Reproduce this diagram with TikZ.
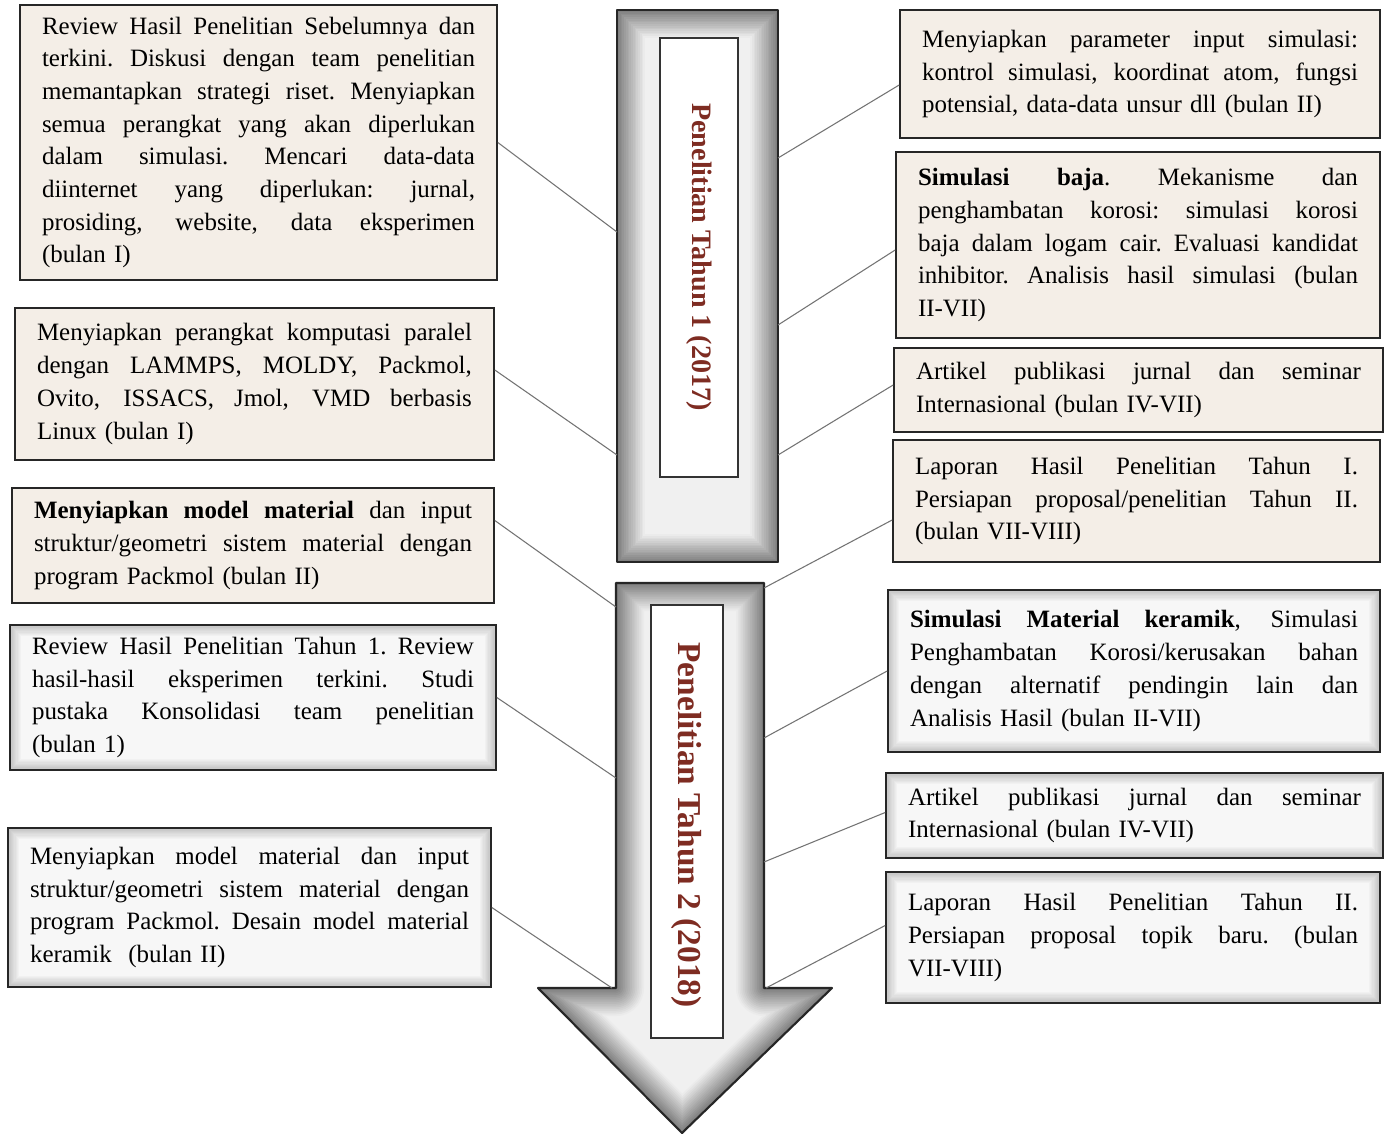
\documentclass[tikz,border=0pt]{standalone}
\usepackage{fontspec}
\setmainfont{Liberation Serif}
\usetikzlibrary{calc}
\definecolor{beige}{HTML}{F4EEE7}
\definecolor{labelred}{HTML}{7E2C22}
\newcommand\jl[1]{\hbox to \linewidth{\spaceskip=0.25em plus 1fil\xspaceskip=0.25em plus 1fil\relax #1}}
\newcommand\boxfont{\fontsize{14.2}{18.6}\selectfont\setlength\parindent{0pt}}
\begin{document}
\begin{tikzpicture}[x=0.02cm,y=-0.02cm,
 boxbase/.style={draw=black!85, line width=1pt, inner xsep=0.44cm, inner ysep=0pt, font=\boxfont, anchor=center},
 topbox/.style={boxbase, fill=beige},
 lowbox/.style={boxbase, fill=black!3, path picture={
   \foreach \i in {1,...,10}{
     \pgfmathsetmacro\w{(11-\i)*0.05}
     \pgfmathsetmacro\c{1+\i*2.2}
     \draw[line width=\w cm, black!\c] (path picture bounding box.south west) rectangle (path picture bounding box.north east);}}},
 link/.style={draw=black!55, line width=0.6pt},
 shaftline/.style={line width=1.2pt, draw=black!85, line join=round},
 innerbox/.style={draw=black!80, fill=white, line width=0.8pt},
 yearlabel/.style={rotate=-90, text=labelred, inner sep=0pt}
]
\useasboundingbox (0,0) rectangle (1387,1136);
\fill[white] (0,0) rectangle (1387,1136);

% ---------- top shaft (year 1)
\begin{scope}
\clip (617,10) rectangle (778,562);
\fill[black!6] (617,10) rectangle (778,562);
\foreach \i in {1,...,16}{
  \pgfmathsetmacro\w{(17-\i)*0.07}
  \pgfmathsetmacro\c{5+\i*2.8}
  \draw[line width=\w cm, black!\c] (617,10) rectangle (778,562);}
\end{scope}
\draw[shaftline] (617,10) rectangle (778,562);
\draw[innerbox] (660,38) rectangle (738,477);
\node[yearlabel, font=\bfseries\fontsize{16}{16}\selectfont] (y1) at (699,257) {Penelitian Tahun 1 (2017)};

% ---------- bottom arrow (year 2)
\begin{scope}
\clip (616,583) -- (764,583) -- (764,988) -- (832,988) -- (682,1133) -- (538,988) -- (616,988) -- cycle;
\fill[black!6] (616,583) -- (764,583) -- (764,988) -- (832,988) -- (682,1133) -- (538,988) -- (616,988) -- cycle;
\foreach \i in {1,...,16}{
  \pgfmathsetmacro\w{(17-\i)*0.07}
  \pgfmathsetmacro\c{5+\i*2.8}
  \draw[line width=\w cm, black!\c, line join=round] (616,583) -- (764,583) -- (764,988) -- (832,988) -- (682,1133) -- (538,988) -- (616,988) -- cycle;}
\end{scope}
\draw[shaftline] (616,583) -- (764,583) -- (764,988) -- (832,988) -- (682,1133) -- (538,988) -- (616,988) -- cycle;
\draw[innerbox] (651,605) rectangle (723,1038);
\node[yearlabel, font=\bfseries\fontsize{19}{19}\selectfont] (y2) at (687,825) {Penelitian Tahun 2 (2018)};

% ---------- left boxes
\node[topbox, minimum width=9.54cm, minimum height=5.5cm, text width=8.66cm] (L1) at (258.5,142.5) {%
\jl{Review Hasil Penelitian Sebelumnya dan}
\jl{terkini. Diskusi dengan team penelitian}
\jl{memantapkan strategi riset. Menyiapkan}
\jl{semua perangkat yang akan diperlukan}
\jl{dalam simulasi. Mencari data-data}
\jl{diinternet yang diperlukan: jurnal,}
\jl{prosiding, website, data eksperimen}
(bulan I)};

\node[topbox, minimum width=9.58cm, minimum height=3.04cm, text width=8.70cm] (L2) at (254.5,384) {%
\jl{Menyiapkan perangkat komputasi paralel}
\jl{dengan LAMMPS, MOLDY, Packmol,}
\jl{Ovito, ISSACS, Jmol, VMD berbasis}
Linux (bulan I)};

\node[topbox, minimum width=9.64cm, minimum height=2.3cm, text width=8.76cm] (L3) at (253,545.5) {%
\jl{\textbf{Menyiapkan model material} dan input}
\jl{struktur/geometri sistem material dengan}
program Packmol (bulan II)};

\node[lowbox, minimum width=9.72cm, minimum height=2.9cm, text width=8.84cm] (L4) at (253,697.5) {%
\jl{Review Hasil Penelitian Tahun 1. Review}
\jl{hasil-hasil eksperimen terkini. Studi}
\jl{pustaka Konsolidasi team penelitian}
(bulan 1)};

\node[lowbox, minimum width=9.66cm, minimum height=3.18cm, text width=8.78cm] (L5) at (249.5,907.5) {%
\jl{Menyiapkan model material dan input}
\jl{struktur/geometri sistem material dengan}
\jl{program Packmol. Desain model material}
keramik \ (bulan II)};

% ---------- right boxes
\node[topbox, minimum width=9.6cm, minimum height=2.56cm, text width=8.72cm] (R1) at (1140,74) {%
\jl{Menyiapkan parameter input simulasi:}
\jl{kontrol simulasi, koordinat atom, fungsi}
potensial, data-data unsur dll (bulan II)};

\node[topbox, minimum width=9.68cm, minimum height=3.72cm, text width=8.8cm] (R2) at (1138,245) {%
\jl{\textbf{Simulasi baja}. Mekanisme dan}
\jl{penghambatan korosi: simulasi korosi}
\jl{baja dalam logam cair. Evaluasi kandidat}
\jl{inhibitor. Analisis hasil simulasi (bulan}
II-VII)};

\node[topbox, minimum width=9.78cm, minimum height=1.68cm, text width=8.9cm] (R3) at (1138.5,390) {%
\jl{Artikel publikasi jurnal dan seminar}
Internasional (bulan IV-VII)};

\node[topbox, minimum width=9.74cm, minimum height=2.44cm, text width=8.86cm] (R4) at (1136.5,501) {%
\jl{Laporan Hasil Penelitian Tahun I.}
\jl{Persiapan proposal/penelitian Tahun II.}
(bulan VII-VIII)};

\node[lowbox, minimum width=9.84cm, minimum height=3.24cm, text width=8.96cm] (R5) at (1134,671) {%
\jl{\textbf{Simulasi Material keramik}, Simulasi}
\jl{Penghambatan Korosi/kerusakan bahan}
\jl{dengan alternatif pendingin lain dan}
Analisis Hasil (bulan II-VII)};

\node[lowbox, minimum width=9.94cm, minimum height=1.7cm, text width=9.06cm] (R6) at (1134.5,815.5) {%
\jl{Artikel publikasi jurnal dan seminar}
Internasional (bulan IV-VII)};

\node[lowbox, minimum width=9.88cm, minimum height=2.62cm, text width=9.0cm] (R7) at (1133,937.5) {%
\jl{Laporan Hasil Penelitian Tahun II.}
\jl{Persiapan proposal topik baru. (bulan}
VII-VIII)};

% ---------- connector end points on the arrows
\coordinate (a1) at (617,232);
\coordinate (a2) at (617,455);
\coordinate (a3) at (616,607);
\coordinate (a4) at (616,778);
\coordinate (a5) at (612,988);
\coordinate (b1) at (778,158);
\coordinate (b2) at (778,325);
\coordinate (b3) at (778,455);
\coordinate (b4) at (764,588);
\coordinate (b5) at (764,738);
\coordinate (b6) at (764,862);
\coordinate (b7) at (766,988);

\draw[link] (L1.east) -- (a1);
\draw[link] ([yshift=0.28cm]L2.east) -- (a2);
\draw[link] ([yshift=0.5cm]L3.east) -- (a3);
\draw[link] (L4.east) -- (a4);
\draw[link] (L5.east) -- (a5);
\draw[link] ([yshift=-0.22cm]R1.west) -- (b1);
\draw[link] ([yshift=-0.1cm]R2.west) -- (b2);
\draw[link] ([yshift=0.1cm]R3.west) -- (b3);
\draw[link] ([yshift=-0.38cm]R4.west) -- (b4);
\draw[link] (R5.west) -- (b5);
\draw[link] ([yshift=0.06cm]R6.west) -- (b6);
\draw[link] ([yshift=0.24cm]R7.west) -- (b7);
\end{tikzpicture}
\end{document}
